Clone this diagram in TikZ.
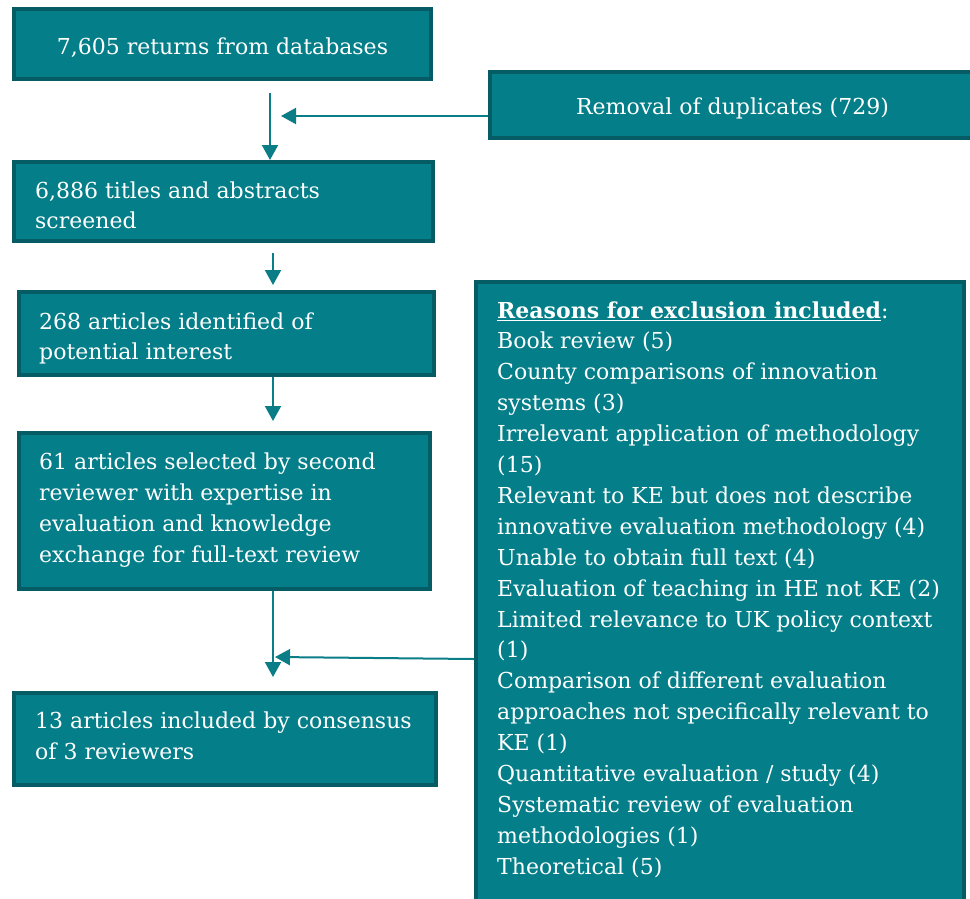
\documentclass[tikz,border=0pt]{standalone}
\usepackage{fontspec}
\setmainfont{DejaVu Serif}
\usetikzlibrary{arrows.meta,calc}
\definecolor{tealfill}{RGB}{4,126,136}
\definecolor{tealdark}{RGB}{5,92,100}
\definecolor{tealarrow}{RGB}{10,125,135}
\newcommand\mylines[1]{\begin{minipage}[t]{520pt}\raggedright #1\end{minipage}}
\begin{document}
\begin{tikzpicture}[x=1pt,y=-1pt,
  box/.style={draw=tealdark, fill=tealfill, line width=4pt, rectangle, inner sep=0pt},
  txt/.style={inner sep=0pt, text=white, font=\fontsize{22}{30.9}\selectfont},
  arr/.style={draw=tealarrow, line width=2pt, -{Triangle[width=16pt,length=15pt]}}]
\useasboundingbox (0,0) rectangle (970,898);
% boxes
\node[box, minimum width=417pt, minimum height=70pt] (b1) at (222.5,44) {};
\node[box, minimum width=510pt, minimum height=66pt] (rem) at (745,105) {};
\node[box, minimum width=419pt, minimum height=79pt] (b2) at (223.5,201.5) {};
\node[box, minimum width=415pt, minimum height=83pt] (b3) at (226.5,333.5) {};
\node[box, minimum width=411pt, minimum height=156pt] (b4) at (224.5,511) {};
\node[box, minimum width=422pt, minimum height=92pt] (b5) at (225,739) {};
\node[box, minimum width=488pt, minimum height=626pt] (rs) at (720,595) {};
% texts
\node[txt, anchor=base] (t1) at (222.5,54) {7,605 returns from databases};
\node[txt, anchor=base] (trem) at (732.5,114) {Removal of duplicates (729)};
\node[txt, anchor=base west] (t2) at (35,198) {\mylines{6,886 titles and abstracts\\screened}};
\node[txt, anchor=base west] (t3) at (39,329) {\mylines{268 articles identified of\\potential interest}};
\node[txt, anchor=base west] (t4) at (39,469.3) {\mylines{61 articles selected by second\\reviewer with expertise in\\evaluation and knowledge\\exchange for full-text review}};
\node[txt, anchor=base west] (t5) at (35,728.3) {\mylines{13 articles included by consensus\\of 3 reviewers}};
\node[txt, anchor=base west] (trs) at (497,318) {\mylines{\underline{\textbf{Reasons for exclusion included}}:\\
Book review (5)\\
County comparisons of innovation\\
systems (3)\\
Irrelevant application of methodology\\
(15)\\
Relevant to KE but does not describe\\
innovative evaluation methodology (4)\\
Unable to obtain full text (4)\\
Evaluation of teaching in HE not KE (2)\\
Limited relevance to UK policy context\\
(1)\\
Comparison of different evaluation\\
approaches not specifically relevant to\\
KE (1)\\
Quantitative evaluation / study (4)\\
Systematic review of evaluation\\
methodologies (1)\\
Theoretical (5)}};
% connectors
\coordinate (c1) at (270,93);
\coordinate (c2) at (273,251);
\coordinate (m1) at (281,116);
\coordinate (m2) at (275,657);
\draw[arr] (c1) -- (c1 |- b2.north);
\draw[arr] ($(rem.west)+(0,11)$) -- (m1);
\draw[arr] ($(b2.south -| c2)+(0,10)$) -- ($(b3.north -| c2)+(0,-5)$);
\draw[arr] (b3.south -| c2) -- ($(b4.north -| c2)+(0,-10)$);
\draw[arr] (b4.south -| c2) -- ($(b5.north -| c2)+(0,-14)$);
\draw[arr] ($(rs.west)+(0,64)$) -- (m2);
\end{tikzpicture}
\end{document}
